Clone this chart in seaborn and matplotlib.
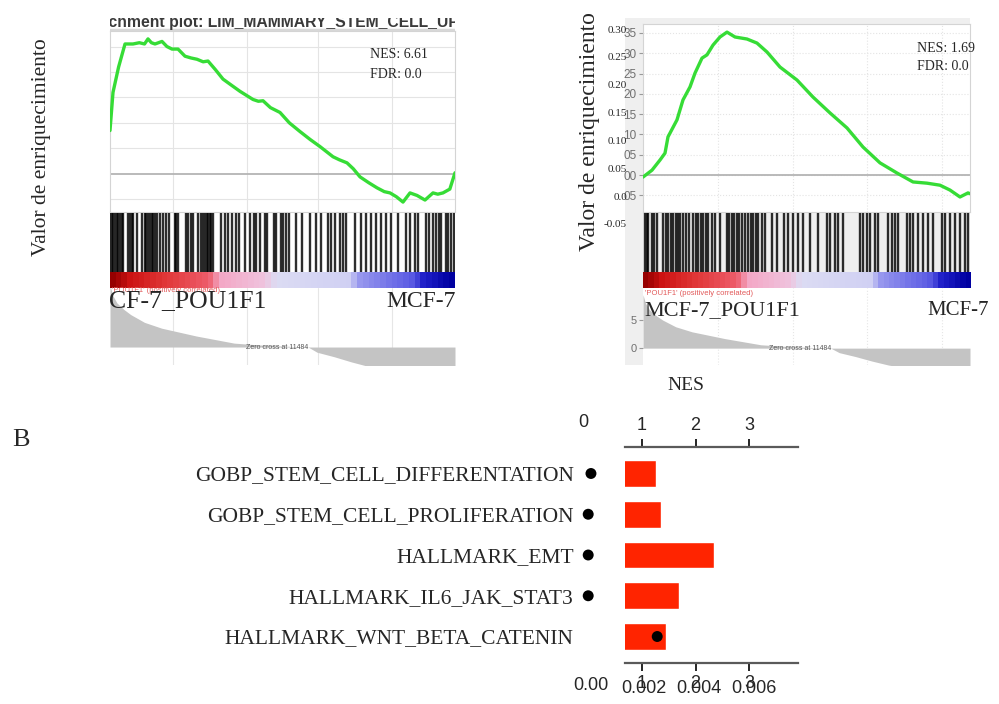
import numpy as np
import pandas as pd
import matplotlib
matplotlib.use("Agg")
import matplotlib.pyplot as plt
from matplotlib.colors import LinearSegmentedColormap
from matplotlib.patches import Rectangle
import seaborn as sns

# ---------------------------------------------------------------- data
N_GENES = 20000
ZERO_CROSS = 11484

# running enrichment score, LIM_MAMMARY_STEM_CELL_UP
lim_rank = [0, 174, 500, 870, 1333, 1700, 2000, 2203, 2400, 2609, 3014, 3300, 3594,
            3942, 4348, 4700, 5043, 5400, 5681, 6100, 6551, 7000, 7536, 8290, 8600,
            8870, 9300, 9855, 10400, 11014, 11600, 12174, 12928, 13300, 13739, 14100,
            14493, 15000, 15478, 15900, 16232, 16600, 16986, 17391, 17800, 18261,
            18725, 19000, 19304, 19700, 20000]
lim_es = [0.17, 0.32, 0.42, 0.51, 0.51, 0.515, 0.51, 0.53, 0.515, 0.51, 0.52, 0.50, 0.49,
          0.49, 0.462, 0.455, 0.45, 0.44, 0.443, 0.41, 0.372, 0.35, 0.324, 0.292, 0.285,
          0.287, 0.26, 0.241, 0.20, 0.166, 0.135, 0.107, 0.067, 0.055, 0.043, 0.02,
          -0.012, -0.035, -0.055, -0.07, -0.075, -0.09, -0.111, -0.075, -0.085, -0.103,
          -0.075, -0.08, -0.075, -0.06, 0.004]
lim_hits = [0, 100, 193, 290, 385, 480, 578, 680, 771, 1060, 1150, 1250, 1350, 1543,
            1833, 2025, 2100, 2218, 2300, 2411, 2500, 2600, 2700, 2894, 3100, 3222, 3434,
            3763, 3850, 3956, 4380, 4500, 4670, 4824, 5114, 5250, 5403, 5500, 5596, 5700,
            5789, 5880, 5982, 6407, 6658, 6850, 7044, 7294, 7488, 7816, 8105, 8337, 8491,
            8684, 8974, 9100, 9495, 9649, 9900, 10050, 10189, 10382, 10807, 11154, 11579,
            11965, 12255, 12641, 12800, 13027, 13316, 13500, 13702, 14185, 14571, 14860,
            15150, 15439, 15729, 16018, 16308, 16694, 17176, 17369, 17659, 17852, 18334,
            18500, 18720, 18913, 19100, 19203, 19492, 19600, 19782, 19950]

# running enrichment score, POU1F1 signature
pou_rank = [0, 550, 1040, 1346, 1529, 2080, 2446, 2875, 3180, 3609, 3914, 4281, 4709,
            5138, 5627, 6361, 6972, 7584, 8379, 9419, 10398, 11437, 12477, 13456, 14495,
            15535, 16514, 17370, 18165, 18777, 19388, 19878, 20000]
pou_es = [-0.005, 0.012, 0.037, 0.054, 0.094, 0.136, 0.185, 0.217, 0.251, 0.288, 0.296,
          0.320, 0.340, 0.352, 0.340, 0.335, 0.325, 0.303, 0.266, 0.234, 0.192, 0.153,
          0.116, 0.069, 0.030, 0.005, -0.017, -0.020, -0.025, -0.037, -0.054, -0.044,
          -0.046]
pou_hits = [123, 225, 327, 531, 674, 837, 1245, 1408, 1550, 1693, 1856, 2019, 2162, 2264,
            2468, 2631, 2794, 3080, 3243, 3385, 3528, 3691, 3854, 3997, 4201, 4405, 4711,
            5119, 5282, 5424, 5567, 5730, 5893, 6036, 6240, 6444, 6587, 6750, 6893, 7056,
            7260, 7463, 7871, 8177, 8626, 8891, 9197, 9502, 9808, 10216, 10726, 11235,
            11439, 11745, 11949, 12255, 13275, 13479, 13682, 13886, 14192, 14396, 15008,
            15212, 15416, 15620, 16129, 16333, 16537, 16843, 17149, 17455, 17761, 18270,
            18475, 18780, 19086, 19392, 19698, 19902]

# ranked list metric
metric_rank = [0, 150, 400, 800, 1200, 2000, 3000, 4000, 5000, 6000, 7200, 8500, 10000,
               11484, 12000, 13000, 14000, 15000, 17000, 19000, 20000]
metric_value = [9.5, 8.0, 6.8, 5.8, 5.0, 3.8, 2.9, 2.3, 1.7, 1.2, 0.6, 0.35, 0.15, 0.0,
                -0.8, -1.5, -2.3, -3.0, -4.0, -5.5, -8.0]

es_ticks_pou = [0.35, 0.30, 0.25, 0.20, 0.15, 0.10, 0.05, 0.00, -0.05]
es_ticklabels_pou = ["35", "30", "25", "20", "15", "10", "05", "00", "05"]
score_ticks = [0.30, 0.25, 0.20, 0.15, 0.10, 0.05, 0.0, -0.05]
score_ticklabels = ["0.30", "0.25", "0.20", "0.15", "0.10", "0.05", "0.0", "-0.05"]

# summary of enriched gene sets
pathways = ["GOBP_STEM_CELL_DIFFERENTATION", "GOBP_STEM_CELL_PROLIFERATION",
            "HALLMARK_EMT", "HALLMARK_IL6_JAK_STAT3", "HALLMARK_WNT_BETA_CATENIN"]
nes = [1.26, 1.36, 2.35, 1.69, 1.45]
fdr = [0.0001, 0.0, 0.0, 0.0, 0.0025]
nes_ticks = [1, 2, 3]
fdr_ticks = [0.002, 0.004, 0.006]
fdr_ticklabels = ["0.002", "0.004", "0.006"]

# ---------------------------------------------------------------- style
sns.set_theme(style="white")
SERIF = ["Liberation Serif", "DejaVu Serif"]
SANS = ["Liberation Sans", "DejaVu Sans"]
plt.rcParams["font.family"] = SERIF

GREEN = "#36dc36"
BAR_RED = "#ff2400"
HEAT = LinearSegmentedColormap.from_list("heat", [
    (0.00, "#960000"), (0.05, "#cc1212"), (0.15, "#e03636"), (0.28, "#ee5c6a"),
    (0.32, "#f4a8c6"), (0.45, "#efc4de"), (0.48, "#dcdcf4"), (0.70, "#d0d0f3"),
    (0.73, "#9696ee"), (0.88, "#5c5ce4"), (0.92, "#1e1ec8"), (1.00, "#0000a0")])

W, H = 999, 704
fig = plt.figure(figsize=(W / 100, H / 100), dpi=100)


def px_axes(x0, y0, x1, y1):
    return fig.add_axes([x0 / W, 1 - y1 / H, (x1 - x0) / W, (y1 - y0) / H])


def fy(y):
    return 1 - y / H


def fx(x):
    return x / W


def clean(ax, spine_color="#d4d4d4"):
    ax.set_xlabel("")
    ax.set_ylabel("")
    for s in ax.spines.values():
        s.set_color(spine_color)
        s.set_linewidth(0.8)


def gsea_panel(x0, x1, es_top, rank, es, es_ylim, grid_x, grid_y, grid_ls,
               hits, metric_ylim):
    # running enrichment score
    ax_es = px_axes(x0, es_top, x1, 212)
    sns.lineplot(x=rank, y=es, ax=ax_es, color=GREEN, linewidth=2.4,
                 sort=False, estimator=None, zorder=3)
    ax_es.set_xlim(0, N_GENES)
    ax_es.set_ylim(*es_ylim)
    ax_es.set_xticks(grid_x)
    ax_es.set_yticks(grid_y)
    ax_es.grid(True, color="#e4e4e4", linewidth=0.8, linestyle=grid_ls)
    ax_es.axhline(0, color="#b4b4b4", linewidth=1.3, zorder=2)
    ax_es.tick_params(labelleft=False, labelbottom=False, length=0)
    clean(ax_es)

    # hit positions
    ax_bc = px_axes(x0, 213, x1, 272)
    ax_bc.vlines(hits, 0, 1, color="black", linewidth=1.7, alpha=0.82)
    ax_bc.set_xlim(0, N_GENES)
    ax_bc.set_ylim(0, 1)
    ax_bc.set_axis_off()

    # ranked list heat bar
    ax_hb = px_axes(x0, 272, x1, 288)
    ax_hb.imshow(np.linspace(0, 1, 60)[None, :], cmap=HEAT, aspect="auto",
                 interpolation="nearest", extent=(0, N_GENES, 0, 1))
    ax_hb.set_axis_off()

    # ranked list metric
    ax_m = px_axes(x0, 288, x1, 365)
    ax_m.fill_between(metric_rank, metric_value, 0, color="#c4c4c4", linewidth=0)
    ax_m.set_xlim(0, N_GENES)
    ax_m.set_ylim(*metric_ylim)
    ax_m.set_xticks(grid_x)
    ax_m.grid(True, axis="x", color="#e6e6e6", linewidth=0.8, linestyle=grid_ls)
    ax_m.tick_params(labelbottom=False, labelleft=False, length=0)
    ax_m.text(ZERO_CROSS, 0, "Zero cross at 11484", ha="right", va="center",
              fontsize=5, color="#555555", family=SANS)
    for s in ax_m.spines.values():
        s.set_visible(False)
    return ax_es, ax_m


# ---------------------------------------------------------------- panel A, left
ax_t = px_axes(110, 18, 455, 31)
ax_t.set_axis_off()
ax_t.axhline(0.05, color="#d8d8d8", linewidth=2.5)
ax_t.text(1.012, 4 / 13, "Enrichment plot: LIM_MAMMARY_STEM_CELL_UP",
          transform=ax_t.transAxes, ha="right", va="baseline", fontsize=11.3,
          fontweight="bold", color="#3a3a3a", family=SANS, clip_on=True)

gsea_panel(110, 455, 31, lim_rank, lim_es, (-0.150, 0.561),
           [3650, 7950, 12050, 16350], [-0.1, 0.1, 0.2, 0.3, 0.4, 0.5], "-",
           lim_hits, (-2.77, 9.1))

fig.text(fx(370), fy(55), "NES: 6.61", fontsize=10, va="center")
fig.text(fx(370), fy(74), "FDR: 0.0", fontsize=10, va="center")
fig.text(fx(112), fy(291), "'POU1F1' (positively correlated)", fontsize=5.5,
         color="#e25a5a", family=SANS, va="center")
fig.text(fx(109), fy(307), "CF-7_POU1F1", fontsize=18.5, va="baseline")
fig.text(fx(456), fy(307), "MCF-7", fontsize=17, va="baseline", ha="right")
fig.text(fx(42), fy(147), "Valor de enriquecimiento", rotation=90, fontsize=15.5,
         ha="center", va="center")

# ---------------------------------------------------------------- panel A, right
fig.patches.append(Rectangle((fx(625), fy(365)), fx(970) - fx(625), fy(18) - fy(365),
                             transform=fig.transFigure, facecolor="#efefef",
                             edgecolor="none", zorder=-1))

ax_es_r, ax_m_r = gsea_panel(643, 970, 24, pou_rank, pou_es, (-0.091, 0.372),
                             [4600, 9170, 13700, 18290], es_ticks_pou, ":",
                             pou_hits, (-3.0, 10.7))
ax_es_r.set_yticks(es_ticks_pou)
ax_es_r.set_yticklabels(es_ticklabels_pou, family=SANS, fontsize=8.5, color="#707070")
ax_es_r.tick_params(axis="y", labelleft=True, left=True, length=3, width=0.8,
                    color="#9a9a9a", pad=1.5)
ax_m_r.set_yticks([0, 5])
ax_m_r.set_yticklabels(["0", "5"], family=SANS, fontsize=8, color="#707070")
ax_m_r.tick_params(axis="y", labelleft=True, left=True, length=3, width=0.8,
                   color="#9a9a9a", pad=1.5)

# score scale printed beside the panel
ax_sc = px_axes(643, 20, 644, 230)
ax_sc.set_ylim(-0.0609, 0.3162)
ax_sc.set_yticks(score_ticks)
ax_sc.set_yticklabels(score_ticklabels, fontsize=8)
ax_sc.set_xticks([])
ax_sc.tick_params(axis="y", length=0, pad=11.5)
ax_sc.patch.set_visible(False)
for s in ax_sc.spines.values():
    s.set_visible(False)

fig.text(fx(917), fy(48), "NES: 1.69", fontsize=10, va="center")
fig.text(fx(917), fy(67), "FDR: 0.0", fontsize=10, va="center")
fig.text(fx(645), fy(293), "'POU1F1' (positively correlated)", fontsize=5.5,
         color="#e25a5a", family=SANS, va="center")
fig.text(fx(644), fy(315), "MCF-7_POU1F1", fontsize=16, va="baseline")
fig.text(fx(989), fy(315), "MCF-7", fontsize=15, va="baseline", ha="right")
fig.text(fx(590), fy(132), "Valor de enriquecimiento", rotation=90, fontsize=17,
         ha="center", va="center")

# ---------------------------------------------------------------- panel B
fig.text(fx(12), fy(440), "B", fontsize=19, va="center")
fig.text(fx(686), fy(385), "NES", fontsize=14, ha="center", va="center")

df = pd.DataFrame({"pathway": pathways, "NES": nes, "FDR": fdr})
ax_b = px_axes(625, 447, 798, 663)
sns.barplot(data=df, y="pathway", x="NES", orient="h", color=BAR_RED,
            saturation=1, width=0.66, ax=ax_b)
ax_b.set_xlim(0.682, 3.916)
ax_b.set_ylim(4.65, -0.65)
ax_b.set_xlabel("")
ax_b.set_ylabel("")
for side in ("left", "right"):
    ax_b.spines[side].set_visible(False)
for side in ("top", "bottom"):
    ax_b.spines[side].set_color("#5a5a5a")
    ax_b.spines[side].set_linewidth(1.6)
ax_b.tick_params(axis="y", length=0, pad=37, labelsize=15.5)

# FDR scale on the lower edge
ax_f = ax_b.twiny()
sns.scatterplot(x=fdr, y=np.arange(len(pathways)), ax=ax_f, color="black", s=62,
                edgecolor="none", legend=False)
for coll in ax_f.collections:
    coll.set_clip_on(False)
ax_f.set_xlim(0.001333, 0.0076)
ax_b.set_ylim(4.65, -0.65)
ax_f.xaxis.set_ticks_position("bottom")
ax_f.set_xticks(fdr_ticks)
ax_f.set_xticklabels(fdr_ticklabels, family=SANS, fontsize=13)
ax_f.tick_params(axis="x", length=0, pad=12)
ax_f.set_xlabel("")
for s in ax_f.spines.values():
    s.set_visible(False)

# NES ticks on both edges
ax_b.xaxis.set_ticks_position("both")
ax_b.set_xticks(nes_ticks)
ax_b.set_xticklabels([str(t) for t in nes_ticks], family=SANS, fontsize=13)
ax_b.tick_params(axis="x", top=True, bottom=True, labeltop=True, labelbottom=True,
                 direction="out", length=6, width=1.2, color="black", pad=3)
fig.text(fx(583), fy(422), "0", family=SANS, fontsize=13, ha="center", va="center")
fig.text(fx(591), fy(685), "0.00", family=SANS, fontsize=13, ha="center", va="center")

fig.savefig("out.png", dpi=100)
